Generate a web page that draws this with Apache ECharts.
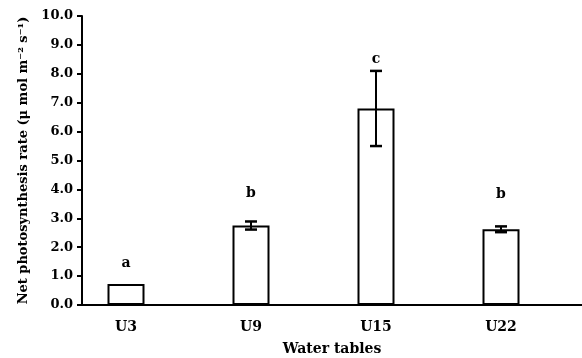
<!DOCTYPE html>
<html>
<head>
<meta charset="utf-8">
<script src="https://cdn.jsdelivr.net/npm/echarts@6/dist/echarts.min.js"></script>
<style>
  html, body { margin: 0; padding: 0; background: #fff; }
  #chart { width: 582px; height: 358px; }
</style>
</head>
<body>
<div id="chart"></div>
<script>
// 数据
var categories = ['U3', 'U9', 'U15', 'U22'];
var means = [0.73, 2.75, 6.80, 2.62];
var errors = [0, 0.14, 1.30, 0.10];
var letters = ['a', 'b', 'c', 'b'];
var letterAt = [1.43, 3.87, 8.5, 3.84]; // 字母所在的数值高度

var font = 'DejaVu Serif';
var barW = 37;

var myChart = echarts.init(document.getElementById('chart'));

var errData = categories.map(function (c, i) {
    return [i, means[i], errors[i], letterAt[i]];
});

var option = {
    animation: false,
    grid: { left: 82, right: 0, top: 16, bottom: 53, outerBoundsMode: 'none', containLabel: false },
    xAxis: {
        type: 'category',
        data: categories,
        name: 'Water tables',
        nameLocation: 'middle',
        nameGap: 37,
        nameTextStyle: { fontFamily: font, fontWeight: 'bold', fontSize: 14, color: '#000' },
        axisLine: { lineStyle: { color: '#000', width: 2 } },
        axisTick: { length: 5, lineStyle: { color: '#000', width: 2 } },
        axisLabel: {
            margin: 15,
            fontFamily: font, fontWeight: 'bold', fontSize: 14, color: '#000',
            padding: [0, 37, 0, 0]
        }
    },
    yAxis: {
        type: 'value',
        min: 0, max: 10, interval: 1,
        name: 'Net photosynthesis rate (\u03bc mol m\u207b\u00b2 s\u207b\u00b9)',
        nameLocation: 'middle',
        nameGap: 52,
        nameTextStyle: { fontFamily: font, fontWeight: 'bold', fontSize: 13, color: '#000' },
        axisLine: { show: true, lineStyle: { color: '#000', width: 2 } },
        axisTick: { show: true, length: 5, lineStyle: { color: '#000', width: 2 } },
        axisLabel: {
            margin: 9,
            fontFamily: font, fontWeight: 'bold', fontSize: 13, color: '#000',
            formatter: function (v) { return v.toFixed(1); }
        },
        splitLine: { show: false }
    },
    series: [
        {
            type: 'bar',
            data: means,
            barWidth: barW,
            barGap: 0,
            itemStyle: { color: '#fff', borderColor: '#000', borderWidth: 2 }
        },
        {
            // 占位，让柱子偏左
            type: 'bar',
            data: [],
            barWidth: barW
        },
        {
            type: 'custom',
            data: errData,
            z: 10,
            renderItem: function (params, api) {
                var i = api.value(0), m = api.value(1), e = api.value(2);
                var top = api.coord([i, m + e]);
                var bot = api.coord([i, m - e]);
                var lab = api.coord([i, api.value(3)]);
                var x = top[0] - barW / 2;
                var cap = 6;
                var kids = [];
                if (e > 0) {
                    kids.push(
                        { type: 'line', shape: { x1: x, y1: top[1], x2: x, y2: bot[1] }, style: { stroke: '#000', lineWidth: 2 } },
                        { type: 'line', shape: { x1: x - cap, y1: top[1], x2: x + cap, y2: top[1] }, style: { stroke: '#000', lineWidth: 2.5 } },
                        { type: 'line', shape: { x1: x - cap, y1: bot[1], x2: x + cap, y2: bot[1] }, style: { stroke: '#000', lineWidth: 2.5 } }
                    );
                }
                kids.push({
                    type: 'text',
                    style: {
                        x: x, y: lab[1],
                        text: letters[params.dataIndex],
                        fontFamily: font, fontWeight: 'bold', fontSize: 14, fill: '#000',
                        align: 'center', verticalAlign: 'middle'
                    }
                });
                return { type: 'group', children: kids };
            }
        }
    ]
};

myChart.setOption(option);
</script>
</body>
</html>
